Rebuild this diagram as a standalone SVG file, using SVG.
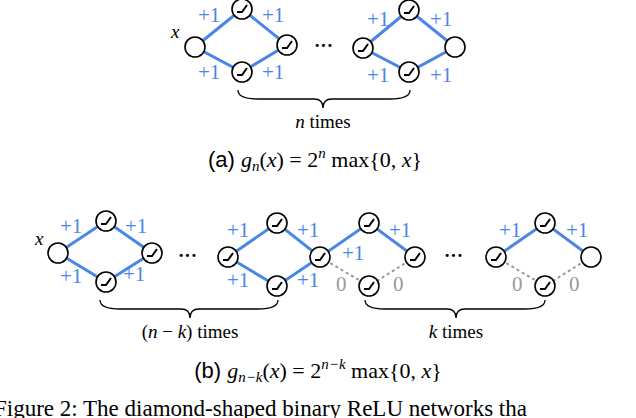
<svg xmlns="http://www.w3.org/2000/svg" width="636" height="418" viewBox="0 0 636 418">
<style>
.e{stroke:#4a86e8;stroke-width:3;fill:none}
.z{stroke:#999;stroke-width:2;stroke-dasharray:3,3;fill:none}
.n{fill:#fff;stroke:#000;stroke-width:1.6}
.w{font-family:"Liberation Serif",serif;font-size:21px;fill:#4a86e8}
.g{font-family:"Liberation Serif",serif;font-size:21px;fill:#999}
.t{font-family:"Liberation Serif",serif;font-size:19px;fill:#000}
.c{font-family:"Liberation Sans",sans-serif;font-size:22px;fill:#000}
.m{font-family:"Liberation Serif",serif}
.f{font-family:"Liberation Serif",serif;font-size:23px;fill:#000}
.b{stroke:#000;stroke-width:1.3;fill:none}
</style>
<defs>
<g id="r"><circle r="10" class="n"/><path d="M-5,3 H0 L5,-4" stroke="#000" stroke-width="2" fill="none"/></g>
<g id="o"><circle r="10" class="n"/></g>
</defs>
<g id="connectors">
<path class="e" d="M195,47 L242,9 L287,45 L242,72 Z"/>
<path class="e" d="M363,48 L409,10 L455,47 L409,72 Z"/>
<path class="e" d="M58,253 L106,221 L152,253 L106,282 Z"/>
<path class="e" d="M228,257 L277,223 L320,257 L277,286 Z"/>
<path class="e" d="M320,257 L369,223 L415,257"/>
<path class="z" d="M320,257 L369,286 L415,257"/>
<path class="e" d="M496,257 L545,223 L591,257"/>
<path class="z" d="M496,257 L545,286 L591,257"/>
</g>
<g id="nodes">
<g id="a1"><use href="#o" x="195" y="47"/></g>
<g id="a2"><use href="#r" x="242" y="9"/></g>
<g id="a3"><use href="#r" x="242" y="72"/></g>
<g id="a4"><use href="#r" x="287" y="45"/></g>
<g id="a5"><use href="#r" x="363" y="48"/></g>
<g id="a6"><use href="#r" x="409" y="10"/></g>
<g id="a7"><use href="#r" x="409" y="72"/></g>
<g id="a8"><use href="#o" x="455" y="47"/></g>
<g id="b1"><use href="#o" x="58" y="253"/></g>
<g id="b2"><use href="#r" x="106" y="221"/></g>
<g id="b3"><use href="#r" x="106" y="282"/></g>
<g id="b4"><use href="#r" x="152" y="253"/></g>
<g id="b5"><use href="#r" x="228" y="257"/></g>
<g id="b6"><use href="#r" x="277" y="223"/></g>
<g id="b7"><use href="#r" x="277" y="286"/></g>
<g id="b8"><use href="#r" x="320" y="257"/></g>
<g id="b9"><use href="#r" x="369" y="223"/></g>
<g id="b10"><use href="#r" x="369" y="286"/></g>
<g id="b11"><use href="#r" x="415" y="257"/></g>
<g id="b12"><use href="#r" x="496" y="257"/></g>
<g id="b13"><use href="#r" x="545" y="223"/></g>
<g id="b14"><use href="#r" x="545" y="286"/></g>
<g id="b15"><use href="#o" x="591" y="257"/></g>
</g>
<g id="labels">
<text class="t" x="171" y="38" font-style="italic" font-size="20">x</text>
<text class="w" x="198" y="22">+1</text><text class="w" x="262" y="22">+1</text>
<text class="w" x="198" y="79">+1</text><text class="w" x="262" y="79">+1</text>
<text class="t" x="314" y="52" font-weight="bold">···</text>
<text class="w" x="367" y="26">+1</text><text class="w" x="430" y="26">+1</text>
<text class="w" x="367" y="82">+1</text><text class="w" x="430" y="82">+1</text>
<text class="t" x="35" y="245" font-style="italic" font-size="20">x</text>
<text class="w" x="60" y="233">+1</text><text class="w" x="125" y="233">+1</text>
<text class="w" x="60" y="283">+1</text><text class="w" x="123" y="281">+1</text>
<text class="t" x="178" y="262" font-weight="bold">···</text>
<text class="w" x="227" y="237">+1</text><text class="w" x="297" y="237">+1</text>
<text class="w" x="227" y="287">+1</text><text class="w" x="297" y="287">+1</text>
<text class="w" x="342" y="260">+1</text>
<text class="w" x="389" y="237">+1</text>
<text class="g" x="336" y="291">0</text><text class="g" x="393" y="291">0</text>
<text class="t" x="444" y="262" font-weight="bold">···</text>
<text class="w" x="499" y="237">+1</text><text class="w" x="566" y="237">+1</text>
<text class="g" x="512" y="291">0</text><text class="g" x="569" y="291">0</text>
</g>
<g id="braces">
<path class="b" d="M238,90 Q238,99 258,99 L314,99 Q323,99 323,108 Q323,99 332,99 L390,99 Q410,99 410,90"/>
<text class="t" x="323" y="128" text-anchor="middle"><tspan font-style="italic">n</tspan> times</text>
<path class="b" d="M100,300 Q100,309 120,309 L181,309 Q190,309 190,318 Q190,309 199,309 L258,309 Q278,309 278,300"/>
<text class="t" x="190" y="338" text-anchor="middle">(<tspan font-style="italic">n</tspan> − <tspan font-style="italic">k</tspan>) times</text>
<path class="b" d="M365,300 Q365,309 385,309 L447,309 Q456,309 456,318 Q456,309 465,309 L525,309 Q545,309 545,300"/>
<text class="t" x="456" y="338" text-anchor="middle"><tspan font-style="italic">k</tspan> times</text>
</g>
<g id="captions">
<text class="c" x="315" y="167" text-anchor="middle">(a) <tspan class="m" font-style="italic">g<tspan font-size="15" dy="4">n</tspan></tspan><tspan class="m" dy="-4">(<tspan font-style="italic">x</tspan>) = 2<tspan font-size="15" dy="-9" font-style="italic">n</tspan><tspan dy="9"> max{0, <tspan font-style="italic">x</tspan>}</tspan></tspan></text>
<text class="c" x="318" y="378" text-anchor="middle">(b) <tspan class="m" font-style="italic">g<tspan font-size="15" dy="4">n−k</tspan></tspan><tspan class="m" dy="-4">(<tspan font-style="italic">x</tspan>) = 2<tspan font-size="15" dy="-9" font-style="italic">n−k</tspan><tspan dy="9"> max{0, <tspan font-style="italic">x</tspan>}</tspan></tspan></text>
<text class="f" x="-6" y="416">Figure 2: The diamond-shaped binary ReLU networks tha</text>
</g>
</svg>
